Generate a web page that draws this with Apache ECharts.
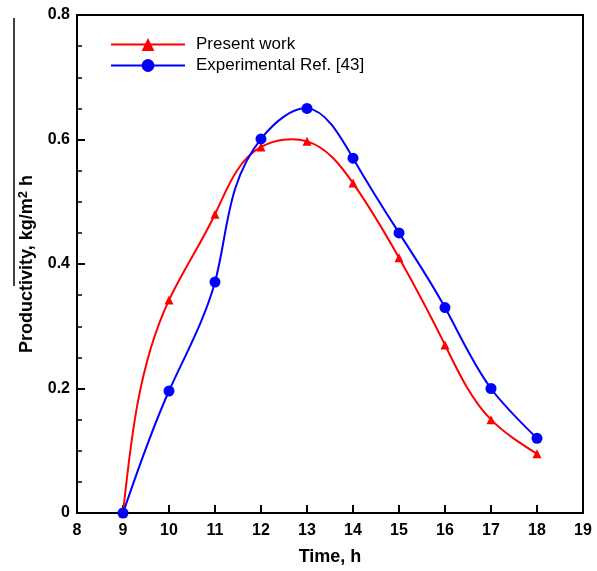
<!DOCTYPE html>
<html><head><meta charset="utf-8">
<script src="https://cdn.jsdelivr.net/npm/echarts@6/dist/echarts.min.js"></script>
<style>html,body{margin:0;padding:0;background:#fff}#c{width:597px;height:571px}</style>
</head><body><div id="c"></div>
<script>
const hours = [9, 10, 11, 12, 13, 14, 15, 16, 17, 18];
const presentWork = [0, 0.342, 0.48, 0.588, 0.597, 0.53, 0.41, 0.27, 0.15, 0.095];
const experimental = [0, 0.196, 0.371, 0.601, 0.65, 0.57, 0.45, 0.33, 0.20, 0.12];
const seriesNames = ['Present work', 'Experimental Ref. [43]'];
const RED = '#ff0000', BLUE = '#0000ff';

// parametric natural cubic spline (chord-length) through pixel points -> bezier segments
function splineSegments(pts) {
  const n = pts.length - 1;
  const h = [];
  for (let i = 0; i < n; i++) h.push(Math.hypot(pts[i + 1][0] - pts[i][0], pts[i + 1][1] - pts[i][1]) || 1e-6);
  function derivs(v) {
    const M = new Array(n + 1).fill(0);
    if (n >= 2) {
      const a = [], b = [], c = [], d = [];
      for (let i = 1; i < n; i++) {
        a.push(h[i - 1]); b.push(2 * (h[i - 1] + h[i])); c.push(h[i]);
        d.push(6 * ((v[i + 1] - v[i]) / h[i] - (v[i] - v[i - 1]) / h[i - 1]));
      }
      const m = b.length;
      for (let i = 1; i < m; i++) { const w = a[i] / b[i - 1]; b[i] -= w * c[i - 1]; d[i] -= w * d[i - 1]; }
      const x = new Array(m);
      x[m - 1] = d[m - 1] / b[m - 1];
      for (let i = m - 2; i >= 0; i--) x[i] = (d[i] - c[i] * x[i + 1]) / b[i];
      for (let i = 1; i < n; i++) M[i] = x[i - 1];
    }
    const D = [];
    for (let i = 0; i < n; i++) D.push((v[i + 1] - v[i]) / h[i] - h[i] * (2 * M[i] + M[i + 1]) / 6);
    D.push((v[n] - v[n - 1]) / h[n - 1] + h[n - 1] * (M[n - 1] + 2 * M[n]) / 6);
    return D;
  }
  const Dx = derivs(pts.map(p => p[0])), Dy = derivs(pts.map(p => p[1]));
  const segs = [];
  for (let i = 0; i < n; i++) {
    segs.push({
      x1: pts[i][0], y1: pts[i][1], x2: pts[i + 1][0], y2: pts[i + 1][1],
      cpx1: pts[i][0] + Dx[i] * h[i] / 3, cpy1: pts[i][1] + Dy[i] * h[i] / 3,
      cpx2: pts[i + 1][0] - Dx[i + 1] * h[i] / 3, cpy2: pts[i + 1][1] - Dy[i + 1] * h[i] / 3
    });
  }
  return segs;
}

function curveSeries(name, values, color) {
  return {
    name: name, type: 'custom', z: 2, silent: true,
    data: hours.map((hr, i) => [hr, values[i]]),
    renderItem: function (params, api) {
      if (params.dataIndex !== 0) return null;
      const pts = hours.map((hr, i) => api.coord([hr, values[i]]));
      return {
        type: 'group',
        children: splineSegments(pts).map(s => ({
          type: 'bezierCurve', shape: s, style: { stroke: color, lineWidth: 2, fill: null }
        }))
      };
    }
  };
}

const chart = echarts.init(document.getElementById('c'));
const font = 'Liberation Sans, Arial, sans-serif';
chart.setOption({
  animation: false,
  grid: { left: 77, top: 15, width: 506, height: 501, show: true, borderColor: '#000', borderWidth: 2, backgroundColor: 'transparent' },
  legend: {
    orient: 'vertical', left: 105, top: 31, itemWidth: 74, itemHeight: 16, itemGap: 4,
    textStyle: { fontFamily: font, fontSize: 17, color: '#000', padding: [0, 0, 0, 6] },
    data: [
      { name: seriesNames[0], lineStyle: { opacity: 1, width: 2, color: RED } },
      { name: seriesNames[1], lineStyle: { opacity: 1, width: 2, color: BLUE } }
    ]
  },
  xAxis: {
    type: 'value', min: 8, max: 19, interval: 1,
    name: 'Time, h', nameLocation: 'middle', nameGap: 35,
    nameTextStyle: { fontFamily: font, fontSize: 18, fontWeight: 'bold', color: '#000' },
    axisLine: { lineStyle: { color: '#000', width: 2 } },
    axisTick: { inside: true, length: 8, lineStyle: { color: '#000', width: 2 } },
    axisLabel: { fontFamily: font, fontSize: 16, fontWeight: 'bold', color: '#000', margin: 10 },
    splitLine: { show: false }
  },
  yAxis: {
    type: 'value', min: 0, max: 0.8, interval: 0.2,
    name: 'Productivity, kg/m{sup|2} h', nameLocation: 'middle', nameGap: 40,
    nameTextStyle: { fontFamily: font, fontSize: 18, fontWeight: 'bold', color: '#000',
      rich: { sup: { fontFamily: font, fontSize: 13, fontWeight: 'bold', color: '#000', verticalAlign: 'top', padding: [0, 0, 7, 0] } } },
    axisLine: { lineStyle: { color: '#000', width: 2 } },
    axisTick: { inside: true, length: 8, lineStyle: { color: '#000', width: 2 } },
    minorTick: { show: true, splitNumber: 4, length: 5, lineStyle: { color: '#000', width: 1.5 } },
    axisLabel: { fontFamily: font, fontSize: 16, fontWeight: 'bold', color: '#000', margin: 7 },
    splitLine: { show: false }
  },
  graphic: [{ type: 'line', shape: { x1: 14, y1: 18, x2: 14, y2: 286 }, style: { stroke: '#000', lineWidth: 1.5 } }],
  series: [
    curveSeries('curve-red', presentWork, RED),
    curveSeries('curve-blue', experimental, BLUE),
    { name: seriesNames[0], type: 'line', z: 3, data: hours.map((h, i) => [h, presentWork[i]]),
      symbol: 'triangle', symbolSize: 9, lineStyle: { color: RED, width: 2, opacity: 0 }, itemStyle: { color: RED } },
    { name: seriesNames[1], type: 'line', z: 3, data: hours.map((h, i) => [h, experimental[i]]),
      symbol: 'circle', symbolSize: 11, lineStyle: { color: BLUE, width: 2, opacity: 0 }, itemStyle: { color: BLUE } }
  ]
});
</script></body></html>
